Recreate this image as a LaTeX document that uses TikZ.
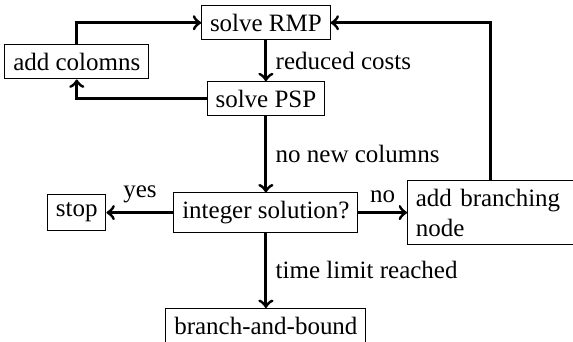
\documentclass[tikz,border=0pt]{standalone}
\usepackage{fontspec}
\setmainfont{Liberation Serif}
\usetikzlibrary{positioning}

\tikzset{
    stepbox/.style={draw, rectangle},
    flow/.style={->, very thick}
}

\begin{document}
\begin{tikzpicture}
            \useasboundingbox (0, 0) rectangle (8.06, -4.81);

            \node[stepbox] (rmp) at (3.74, -0.32) {solve RMP};
            \node[stepbox] (cols) at (1.08, -0.87) {add colomns};
            \node[stepbox] (psp) at (3.74, -1.39) {solve PSP};
            \node[stepbox] (intsol) at (3.74, -2.99) {integer solution?};
            \node[stepbox] (stop) at (1.08, -2.99) {stop};
            \node[stepbox, text width=2.1cm, align=left] (branch) at (6.9, -2.99) {add branching node};
            \node[stepbox] (bab) at (3.74, -4.58) {branch-and-bound};

            \draw[flow] (rmp) -- node [anchor=west]{reduced costs} (psp);
            \draw[flow] (psp.west) -| (cols.south);
            \draw[flow] (cols.north) |- (rmp.west);

            \draw[flow] (psp) -- node [anchor=west]{no new columns} (intsol);
            \draw[flow] (intsol) -- node [anchor=south]{yes} (stop);
            \draw[flow] (intsol) -- node [anchor=south]{no} (branch);
            \draw[flow] (branch.north) |- (rmp.east);
            \draw[flow] (intsol) -- node [anchor=west]{time limit reached} (bab);
        \end{tikzpicture}
\end{document}
